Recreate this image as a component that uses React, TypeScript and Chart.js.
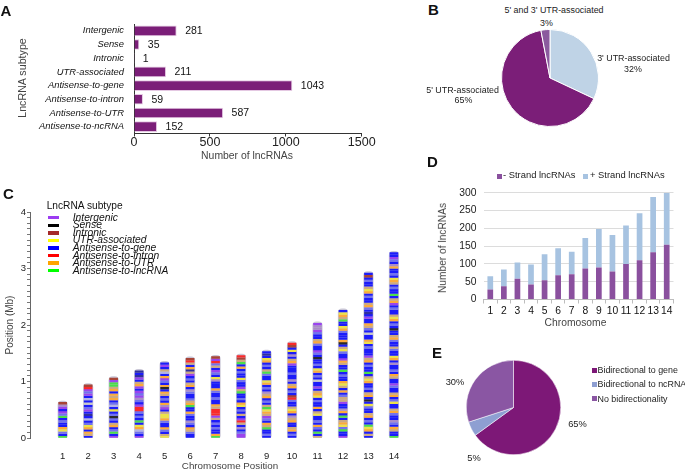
import React, { useEffect, useRef } from 'react';
import { Chart, registerables } from 'chart.js';

Chart.register(...registerables);
const FONT = "'Liberation Sans', Arial, Helvetica, sans-serif";
Chart.defaults.font.family = FONT;

// ---------- Panel A ----------
const subtypeLabels = ['Intergenic', 'Sense', 'Intronic', 'UTR-associated', 'Antisense-to-gene', 'Antisense-to-intron', 'Antisense-to-UTR', 'Antisense-to-ncRNA'];
const subtypeCounts = [281, 35, 1, 211, 1043, 59, 587, 152];
const countTicks = [0, 500, 1000, 1500];

// ---------- Panel B ----------
const utrLabels = ["3' UTR-associated", "5' UTR-associated", "5' and 3' UTR-associated"];
const utrShares = [32, 65, 3];

// ---------- Panel C ----------
const chromosomes = [1, 2, 3, 4, 5, 6, 7, 8, 9, 10, 11, 12, 13, 14];
const chromLengthsMb = [0.64, 0.95, 1.07, 1.2, 1.34, 1.42, 1.45, 1.47, 1.54, 1.69, 2.04, 2.27, 2.93, 3.29];
// stripe colour codes read bottom -> top along each chromosome
const chromStripes = [
  'GBbYOBBbBGbPBPMR',
  'BTOBOYbBLBNBPbBgBLBPbPXR',
  'PBGbBOTBbKbBYBLbBOTOBOTGGPR',
  'PBbLOYBGBbBbXXPBbMPbPBPOTBPNBN',
  'YTBbOBBbOYYTBPMOBbBTOBKOBbPOBLTBPB',
  'BBbTOBbMBBbOBBGOTbBBbMBOTBbBPTNOBTXR',
  'GOBBbBbBTPXXXTOBBbBBbOBBBMYBbPBTbXPR',
  'PPbBMBTXPBTBbBYOBbBBGTPBBbYBBbBOBGTRX',
  'BbBBGTOBbPTOYGTBbBOTMBbBOYBBbGTBbBOYBNB',
  'BbBOTBBOTMBOYTBBbXRBbBOTBMBBbBBBPOTBMBYBRX',
  'TBGBbOBbBBYTBOBBbBYOTBPBBgBbBOYBbBBKBbPBBbOTBBbPMMP',
  'PBBGbYOTBGBOMBBPTTbBOBTYOBBbBGBBTOPBBbYTBKOBBBbOYBBGTOYB',
  'BTBOYGBbBOTBBbYBKBOTBbBBOYTBGBBbBOTPBBBbBYOBBgBbTOBBPBNBbOTBBbBOYTBBbBRB',
  'GBBTOBbMBBbOTBBYbBOTBBbPBBTOBbBBMBOYBBbTBBbOTBBKBbBOYTBBbBPOTBGBBbBTOYBbBBOMBbPBB',
];
const stripePalette: Record<string, string> = {
  B: '#1c1cfa', b: '#7272ee', L: '#b4b2e6', P: '#9a44ee', M: '#aa8cc8', K: '#2a2a2a',
  R: '#a84436', Y: '#ece24a', X: '#fa2a2a', O: '#fcaa3a', T: '#cdaa80', G: '#4ade4a',
  g: '#c9c9c9', N: '#30309c',
};
const legendSubtypes = ['Intergenic', 'Sense', 'Intronic', 'UTR-associated', 'Antisense-to-gene', 'Antisense-to-intron', 'Antisense-to-UTR', 'Antisense-to-lncRNA'];
const legendSubtypeColors = ['#9c3cf2', '#000000', '#a52a2a', '#ffff00', '#0000ff', '#ff0000', '#ffa500', '#00ff00'];
const positionTicksMb = [0, 1, 2, 3, 4];

// ---------- Panel D ----------
const chromLabels = ['1', '2', '3', '4', '5', '6', '7', '8', '9', '10', '11', '12', '13', '14'];
const minusStrand = [28, 37, 58, 42, 54, 68, 71, 87, 90, 79, 100, 110, 133, 154];
const plusStrand = [37, 47, 46, 56, 73, 76, 63, 86, 108, 102, 108, 132, 155, 146];

// ---------- Panel E ----------
const bidirLabels = ['Bidirectional to gene', 'Bidirectional to ncRNA', 'No bidirectionality'];
const bidirShares = [65, 5, 30];

const PURPLE = '#7b1e78';
const E_COLORS = ['#7d1877', '#8e9fd2', '#8a56a3'];

function ChartBox({ left, top, width, height, config }: any) {
  const ref = useRef<HTMLCanvasElement>(null);
  useEffect(() => {
    const chart = new Chart(ref.current as HTMLCanvasElement, config);
    return () => chart.destroy();
  }, []);
  return (
    <canvas ref={ref} width={width} height={height}
      style={{ position: 'absolute', left, top, width, height, display: 'block' }} />
  );
}

function T({ x, y, s, size = 10, align = 'left', rot = false, italic = false, bold = false, color = '#222' }: any) {
  const tx = align === 'left' ? '0' : align === 'center' ? '-50%' : '-100%';
  return (
    <div style={{
      position: 'absolute', left: x, top: y,
      transform: rot ? 'translate(-50%,-50%) rotate(-90deg)' : `translate(${tx},-50%)`,
      fontSize: size, fontStyle: italic ? 'italic' : 'normal', fontWeight: bold ? 'bold' : 'normal',
      whiteSpace: 'nowrap', lineHeight: 1, color, fontFamily: FONT,
    }}>{s}</div>
  );
}

function Sq({ x, y, w, h, c }: any) {
  return <div style={{ position: 'absolute', left: x, top: y, width: w, height: h, background: c }} />;
}

const barValuePlugin = {
  id: 'barValues',
  afterDatasetsDraw(chart: any) {
    const { ctx } = chart;
    const meta = chart.getDatasetMeta(0);
    ctx.save();
    ctx.font = `10.5px ${FONT}`;
    ctx.fillStyle = '#111';
    ctx.textBaseline = 'middle';
    ctx.textAlign = 'left';
    meta.data.forEach((el: any, i: number) => {
      ctx.fillText(String(subtypeCounts[i]), el.x + 8.5, el.y + 0.5);
    });
    ctx.restore();
  },
};

const configA: any = {
  type: 'bar',
  data: {
    labels: subtypeLabels,
    datasets: [{
      data: subtypeCounts, backgroundColor: PURPLE, borderColor: '#e4c8e2', borderWidth: 1,
      borderSkipped: 'left', barPercentage: 0.8, categoryPercentage: 0.97,
    }],
  },
  options: {
    indexAxis: 'y', responsive: false, animation: false,
    layout: { padding: { top: 24, right: 18.3, left: 0, bottom: 0 } },
    plugins: { legend: { display: false }, tooltip: { enabled: false } },
    scales: {
      x: {
        type: 'linear', min: 0, max: 1500,
        afterBuildTicks: (s: any) => { s.ticks = countTicks.map((v) => ({ value: v })); },
        ticks: { font: { size: 12.5 }, color: '#222', padding: -1, callback: (v: any) => String(v) },
        grid: { drawOnChartArea: false, tickLength: 3, color: '#333' },
        border: { display: true, color: '#333' },
        afterFit: (s: any) => { s.height = 36.5; },
      },
      y: {
        ticks: { font: { size: 9.4, style: 'italic' }, color: '#111', padding: 10, autoSkip: false },
        grid: { drawOnChartArea: false, drawTicks: false },
        border: { display: true, color: '#333' },
        afterFit: (s: any) => { s.width = 134; },
      },
    },
  },
  plugins: [barValuePlugin],
};

const configB: any = {
  type: 'pie',
  data: {
    labels: utrLabels,
    datasets: [{ data: utrShares, backgroundColor: ['#bfd3e6', PURPLE, '#8b5a9e'], borderColor: '#ffffff', borderWidth: 1 }],
  },
  options: { responsive: false, animation: false, plugins: { legend: { display: false }, tooltip: { enabled: false } } },
};

const stripeData: any[] = [];
const stripeColors: string[] = [];
chromosomes.forEach((c, ci) => {
  const str = chromStripes[ci];
  const len = chromLengthsMb[ci];
  const n = str.length;
  for (let i = 0; i < n; i++) {
    stripeData.push({ x: c, y: [(i * len) / n, ((i + 0.75) * len) / n] });
    stripeColors.push(stripePalette[str[i]] || '#c9c9c9');
  }
});

const configC: any = {
  type: 'bar',
  data: {
    datasets: [
      { data: stripeData, backgroundColor: stripeColors, barThickness: 8, grouped: false, order: 0, borderWidth: 0 },
      {
        data: chromosomes.map((c, i) => ({ x: c, y: [-0.015, chromLengthsMb[i] + 0.015] })),
        backgroundColor: '#c9c6d6', barThickness: 9.5, grouped: false, order: 1,
        borderRadius: 4, borderSkipped: false, borderWidth: 0,
      },
    ],
  },
  options: {
    responsive: false, animation: false,
    layout: { padding: { top: 22, right: 30.7, left: 0, bottom: 0 } },
    plugins: { legend: { display: false }, tooltip: { enabled: false } },
    scales: {
      x: {
        type: 'linear', min: -0.283, max: 14.603, offset: false,
        afterBuildTicks: (s: any) => { s.ticks = chromosomes.map((v) => ({ value: v })); },
        ticks: { font: { size: 9.5 }, color: '#222', padding: 4.3, autoSkip: false, maxRotation: 0, callback: (v: any) => String(v) },
        grid: { display: false },
        border: { display: false },
        afterFit: (s: any) => { s.height = 32; },
      },
      y: {
        type: 'linear', min: 0, max: 4,
        afterBuildTicks: (s: any) => { s.ticks = Array.from({ length: 41 }, (_, i) => ({ value: i / 10 })); },
        ticks: {
          font: { size: 9.5 }, color: '#222', padding: 1, autoSkip: false,
          callback: (v: any) => {
            const r = Math.round(v);
            return Math.abs(v - r) < 1e-6 && positionTicksMb.includes(r) ? String(r) : '';
          },
        },
        grid: { drawOnChartArea: false, tickLength: 3, color: '#777' },
        border: { display: true, color: '#666' },
        afterFit: (s: any) => { s.width = 30; },
      },
    },
  },
};

const configD: any = {
  type: 'bar',
  data: {
    labels: chromLabels,
    datasets: [
      { label: '- Strand lncRNAs', data: minusStrand, backgroundColor: '#8a509e', barPercentage: 0.42, categoryPercentage: 1 },
      { label: '+ Strand lncRNAs', data: plusStrand, backgroundColor: '#a7c3e1', barPercentage: 0.42, categoryPercentage: 1 },
    ],
  },
  options: {
    responsive: false, animation: false,
    layout: { padding: { top: 32.7, right: 11.5, left: 0, bottom: 0 } },
    plugins: { legend: { display: false }, tooltip: { enabled: false } },
    scales: {
      x: {
        stacked: true,
        ticks: { font: { size: 10.3 }, color: '#111', padding: 1, autoSkip: false, maxRotation: 0 },
        grid: { drawOnChartArea: false, tickLength: 4, color: '#bdbdbd', offset: true },
        border: { display: true, color: '#bdbdbd' },
        afterFit: (s: any) => { s.height = 30.5; },
      },
      y: {
        stacked: true, min: 0, max: 300,
        ticks: { stepSize: 50, font: { size: 10.3 }, color: '#222', padding: 7 },
        grid: { color: '#dcdcdc', drawTicks: false },
        border: { display: false },
        afterFit: (s: any) => { s.width = 43.5; },
      },
    },
  },
};

const configE: any = {
  type: 'pie',
  data: {
    labels: bidirLabels,
    datasets: [{ data: bidirShares, backgroundColor: E_COLORS, borderColor: '#ffffff', borderWidth: 0.5 }],
  },
  options: { responsive: false, animation: false, plugins: { legend: { display: false }, tooltip: { enabled: false } } },
};

export default function App() {
  const legendCY = legendSubtypes.map((_, i) => 217.7 + i * 7.57);
  const eLegY = [370, 384.3, 398.7];
  return (
    <div style={{ position: 'fixed', left: 0, top: 0, width: 685, height: 470, background: '#fff', overflow: 'hidden', fontFamily: FONT }}>
      {/* Panel A */}
      <ChartBox left={0} top={0} width={380} height={170} config={configA} />
      <T x={0.5} y={10} s="A" size={15} bold color="#111" />
      <T x={21.7} y={78} s="LncRNA subtype" size={10.7} rot color="#444" />
      <T x={247} y={155.7} s="Number of lncRNAs" size={10.4} align="center" color="#444" />

      {/* Panel B */}
      <ChartBox left={501} top={29} width={98} height={98} config={configB} />
      <T x={428} y={9} s="B" size={15} bold color="#111" />
      <T x={554} y={10} s={utrLabels[2]} size={8.9} align="center" />
      <T x={546.5} y={23} s={`${utrShares[2]}%`} size={8.9} align="center" />
      <T x={633.5} y={58} s={utrLabels[0]} size={8.9} align="center" />
      <T x={633} y={68.5} s={`${utrShares[0]}%`} size={8.9} align="center" />
      <T x={499} y={90} s={utrLabels[1]} size={8.9} align="right" />
      <T x={463.5} y={99.5} s={`${utrShares[1]}%`} size={8.9} align="center" />

      {/* Panel C */}
      <ChartBox left={0} top={190} width={440} height={280} config={configC} />
      <T x={3} y={193} s="C" size={15} bold color="#111" />
      <T x={9.5} y={325} s="Position (Mb)" size={10} rot color="#444" />
      <T x={230} y={465.7} s="Chromosome Position" size={9.8} align="center" color="#444" />
      <T x={46.7} y={206} s="LncRNA subtype" size={10.2} color="#111" />
      {legendSubtypes.map((name, i) => (
        <React.Fragment key={name}>
          <Sq x={47.7} y={legendCY[i] - 1.7} w={11.6} h={3.4} c={legendSubtypeColors[i]} />
          <T x={72.7} y={legendCY[i]} s={name} size={10.3} italic color="#111" />
        </React.Fragment>
      ))}

      {/* Panel D */}
      <ChartBox left={440} top={160} width={245} height={170} config={configD} />
      <T x={427} y={161} s="D" size={15} bold color="#111" />
      <Sq x={497} y={173.5} w={5} h={5} c="#8a509e" />
      <T x={503} y={174.5} s="- Strand lncRNAs" size={9.4} />
      <Sq x={583} y={173.5} w={5} h={5} c="#a7c3e1" />
      <T x={590} y={174.5} s="+ Strand lncRNAs" size={9.4} />
      <T x={443} y={248} s="Number of lncRNAs" size={10.2} rot color="#444" />
      <T x={575.5} y={323} s="Chromosome" size={10.3} align="center" color="#444" />

      {/* Panel E */}
      <ChartBox left={466} top={360} width={95} height={95} config={configE} />
      <T x={432} y={352} s="E" size={15} bold color="#111" />
      <T x={577.5} y={425} s={`${bidirShares[0]}%`} size={9.3} align="center" />
      <T x={474} y={459} s={`${bidirShares[1]}%`} size={9.3} align="center" />
      <T x={455} y={383} s={`${bidirShares[2]}%`} size={9.3} align="center" />
      {bidirLabels.map((name, i) => (
        <React.Fragment key={name}>
          <Sq x={591.5} y={eLegY[i] - 2.5} w={5} h={5} c={E_COLORS[i]} />
          <T x={597.5} y={eLegY[i]} s={name} size={8.9} />
        </React.Fragment>
      ))}
    </div>
  );
}
